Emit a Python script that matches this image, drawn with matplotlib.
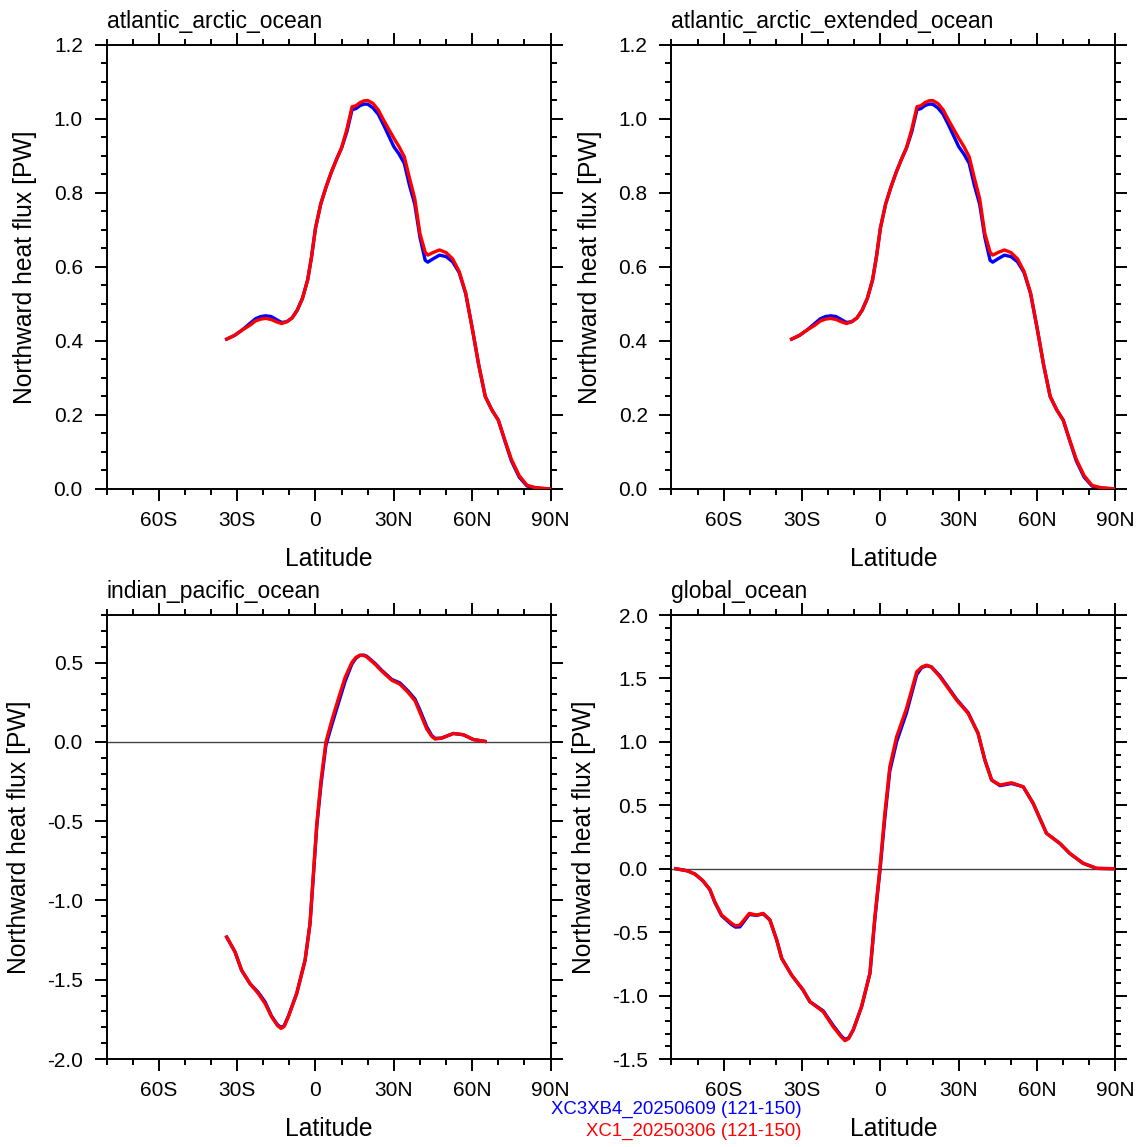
import numpy as np
import matplotlib
matplotlib.use('Agg')
import matplotlib.pyplot as plt
from matplotlib.ticker import MultipleLocator, FixedLocator

plt.rcParams['font.family'] = ['Liberation Sans', 'DejaVu Sans']

# atlantic (same curves for atlantic_arctic and atlantic_arctic_extended)
lat_atl = [-34, -31, -28, -25, -23, -21, -19, -17, -15, -13, -11, -9, -7, -5, -3, -1.5, 0, 2, 4, 6, 8,
           10, 12, 14, 15.5, 17, 18.5, 20, 22, 24, 26, 28, 30, 32, 34, 36, 38, 40, 42, 43, 45, 47.5,
           50, 52.5, 55, 57.5, 60, 62.5, 65, 67.5, 70, 72.5, 75, 78, 81, 84, 87, 90]
atl_red = [0.405, 0.415, 0.430, 0.443, 0.454, 0.459, 0.461, 0.458, 0.452, 0.447, 0.452, 0.462, 0.483,
           0.515, 0.565, 0.628, 0.705, 0.770, 0.815, 0.855, 0.890, 0.922, 0.972, 1.033, 1.036, 1.044,
           1.049, 1.050, 1.042, 1.025, 0.998, 0.973, 0.948, 0.925, 0.898, 0.840, 0.785, 0.690, 0.640,
           0.632, 0.639, 0.646, 0.639, 0.622, 0.588, 0.530, 0.435, 0.335, 0.250, 0.214, 0.186, 0.132,
           0.080, 0.036, 0.010, 0.004, 0.002, 0.000]
atl_blue = [0.405, 0.415, 0.430, 0.448, 0.460, 0.466, 0.468, 0.466, 0.458, 0.450, 0.452, 0.462, 0.483,
            0.515, 0.565, 0.628, 0.705, 0.770, 0.815, 0.855, 0.890, 0.922, 0.965, 1.025, 1.028, 1.036,
            1.040, 1.040, 1.030, 1.013, 0.985, 0.955, 0.925, 0.905, 0.880, 0.820, 0.770, 0.680, 0.618,
            0.613, 0.622, 0.632, 0.628, 0.614, 0.585, 0.528, 0.435, 0.335, 0.250, 0.214, 0.186, 0.130,
            0.076, 0.032, 0.008, 0.003, 0.001, 0.000]

# indian_pacific
lat_ip = [-34, -30.8, -28.3, -25.1, -21.9, -19.3, -16.8, -14.5, -13.2, -12, -10.4, -7.2, -4, -2.1, -0.8,
          0.5, 2.1, 4, 6.2, 8.7, 11.3, 13.9, 15.5, 17, 18.5, 19.6, 22.8, 25.3, 29.2, 32.3, 35.5, 38.1, 40,
          42.6, 44.5, 45.8, 48.3, 52.8, 56.6, 60.4, 64.9]
ip_red = [-1.231, -1.325, -1.440, -1.524, -1.587, -1.650, -1.734, -1.790, -1.807, -1.795, -1.734,
          -1.587, -1.378, -1.147, -0.832, -0.517, -0.245, 0.000, 0.133, 0.269, 0.405, 0.500, 0.533,
          0.546, 0.545, 0.536, 0.490, 0.447, 0.389, 0.364, 0.311, 0.259, 0.185, 0.081, 0.035, 0.018,
          0.024, 0.053, 0.045, 0.015, 0.003]
ip_blue = [-1.231, -1.325, -1.440, -1.524, -1.580, -1.640, -1.730, -1.785, -1.800, -1.790, -1.730,
           -1.587, -1.378, -1.147, -0.840, -0.530, -0.270, -0.020, 0.105, 0.240, 0.380, 0.490, 0.528,
           0.546, 0.547, 0.540, 0.495, 0.452, 0.394, 0.372, 0.320, 0.270, 0.200, 0.095, 0.040, 0.022,
           0.024, 0.053, 0.045, 0.015, 0.003]

# global
lat_gl = [-78.3, -74, -71, -68, -65.3, -63.4, -60.8, -57, -55.5, -53.8, -50.2, -47.4, -44.9, -42.3,
          -39.7, -37.8, -34, -29.6, -27, -21.9, -18.1, -15, -13.6, -12.2, -10.4, -7.2, -4, -2.1, -0.2,
          1.7, 3.6, 6.2, 10, 13.9, 15.8, 17.7, 19.5, 22.8, 26, 29.2, 33.6, 37.4, 40, 42.6, 45.8, 50.2,
          54.7, 58.5, 63.6, 68.7, 72.5, 77.6, 82.8, 90]
gl_red = [0.0, -0.016, -0.042, -0.094, -0.162, -0.260, -0.365, -0.430, -0.450, -0.444, -0.352, -0.365,
          -0.352, -0.404, -0.562, -0.706, -0.838, -0.956, -1.048, -1.127, -1.245, -1.325, -1.355,
          -1.340, -1.271, -1.087, -0.824, -0.378, 0.0, 0.436, 0.804, 1.040, 1.264, 1.552, 1.590, 1.605,
          1.590, 1.513, 1.421, 1.329, 1.225, 1.067, 0.857, 0.699, 0.660, 0.678, 0.646, 0.515, 0.279,
          0.200, 0.121, 0.043, 0.003, 0.0]
gl_blue = [0.0, -0.016, -0.042, -0.094, -0.165, -0.265, -0.370, -0.440, -0.460, -0.458, -0.360, -0.368,
           -0.355, -0.404, -0.562, -0.706, -0.838, -0.956, -1.048, -1.120, -1.235, -1.318, -1.345,
           -1.335, -1.271, -1.087, -0.824, -0.390, -0.020, 0.400, 0.770, 1.000, 1.230, 1.530, 1.585,
           1.600, 1.592, 1.520, 1.428, 1.335, 1.230, 1.067, 0.857, 0.699, 0.655, 0.672, 0.646, 0.515,
           0.279, 0.200, 0.121, 0.043, 0.003, 0.0]

titulos = ['atlantic_arctic_ocean', 'atlantic_arctic_extended_ocean', 'indian_pacific_ocean', 'global_ocean']
casos = ['XC3XB4_20250609 (121-150)', 'XC1_20250306 (121-150)']
xticks = [-60, -30, 0, 30, 60, 90]
xlabels = ['60S', '30S', '0', '30N', '60N', '90N']


def panel(rect, lat, azul, rojo, titulo, ylim, ymaj, ymin, yfmt, xlab, zero=False):
    ax = fig.add_axes(rect)
    if zero:
        ax.axhline(0, color='#444444', lw=1.0, zorder=1)
    ax.plot(lat, azul, color='blue', lw=2.4, zorder=2)
    ax.plot(lat, rojo, color='red', lw=2.4, zorder=3)
    ax.set_xlim(-80, 90)
    ax.set_ylim(*ylim)
    ax.xaxis.set_major_locator(FixedLocator(xticks))
    ax.set_xticklabels(xlabels)
    ax.xaxis.set_minor_locator(MultipleLocator(10))
    ax.yaxis.set_minor_locator(MultipleLocator(ymin))
    yt = np.arange(ylim[0], ylim[1] + 1e-6, ymaj)
    ax.set_yticks(yt)
    ax.set_yticklabels([yfmt % v for v in yt])
    ax.tick_params(which='both', direction='out', top=True, right=True, width=1.4, labelsize=15)
    ax.tick_params(which='major', length=8.6)
    ax.tick_params(which='minor', length=4.3)
    ax.tick_params(axis='x', pad=7.5)
    ax.tick_params(axis='y', pad=8.5)
    for s in ax.spines.values():
        s.set_linewidth(1.4)
    ax.annotate(titulo, xy=(0, 1), xycoords='axes fraction', xytext=(0, 12),
                textcoords='offset points', ha='left', va='baseline', fontsize=16.5)
    ax.set_xlabel('Latitude', fontsize=17.7, va='center')
    ax.xaxis.set_label_coords(0.5, -0.158)
    ax.set_ylabel('Northward heat flux [PW]', fontsize=17.7, va='center')
    ax.yaxis.set_label_coords(xlab, 0.5)
    return ax


fig = plt.figure(figsize=(11.47, 11.47), dpi=100)
w = 444 / 1147
panel([0.0929, 0.5737, w, w], lat_atl, atl_blue, atl_red, titulos[0], (0.0, 1.2), 0.2, 0.05, '%.1f', -0.1836)
panel([0.5854, 0.5737, w, w], lat_atl, atl_blue, atl_red, titulos[1], (0.0, 1.2), 0.2, 0.05, '%.1f', -0.1836)
panel([0.0929, 0.0767, w, w], lat_ip, ip_blue, ip_red, titulos[2], (-2.0, 0.8), 0.5, 0.1, '%.1f', -0.197, zero=True)
panel([0.5854, 0.0767, w, w], lat_gl, gl_blue, gl_red, titulos[3], (-1.5, 2.0), 0.5, 0.1, '%.1f', -0.198, zero=True)

fig.text(802 / 1147, 1 - 1109 / 1147, casos[0], color='blue', fontsize=13.4, ha='right', va='center')
fig.text(802 / 1147, 1 - 1131 / 1147, casos[1], color='red', fontsize=13.4, ha='right', va='center')

plt.savefig('out.png', dpi=100)
